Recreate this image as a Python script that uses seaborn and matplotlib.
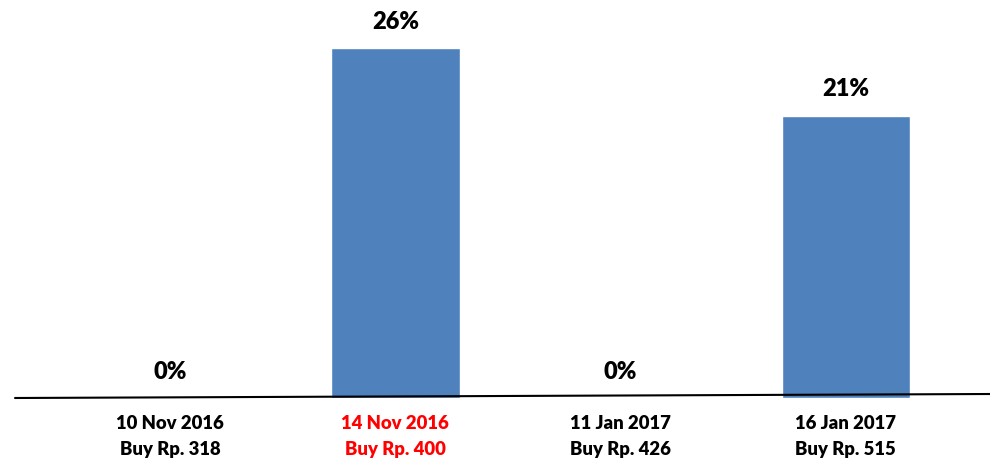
import matplotlib
matplotlib.use("Agg")
import matplotlib.pyplot as plt
from matplotlib.lines import Line2D
import pandas as pd
import seaborn as sns

# Chart data
dates = ["10 Nov 2016", "14 Nov 2016", "11 Jan 2017", "16 Jan 2017"]
prices = ["Buy Rp. 318", "Buy Rp. 400", "Buy Rp. 426", "Buy Rp. 515"]
returns = [0, 26, 0, 21]
label_colors = ["black", "#FF0000", "black", "black"]

df = pd.DataFrame({"cat": [f"{d}\n{p}" for d, p in zip(dates, prices)], "ret": returns})

sns.set_style("white")
plt.rcParams["font.family"] = ["Lato", "DejaVu Sans"]

fig = plt.figure(figsize=(9.9, 4.61), dpi=100)
ax = fig.add_axes([0, 63 / 461, 1, 398 / 461])

sns.barplot(data=df, x="cat", y="ret", color="#4F81BD", saturation=1, width=0.57, ax=ax)

ax.set_xlim(-0.755, 3.64)
ax.set_ylim(0, 29.6)

for i, v in enumerate(returns):
    ax.annotate(f"{v}%", (i, v), xytext=(0, 19), textcoords="offset points",
                ha="center", va="center", fontsize=17, fontweight="heavy", color="black")

ax.tick_params(axis="x", length=0, pad=12)
for lbl, c in zip(ax.get_xticklabels(), label_colors):
    lbl.set_color(c)
    lbl.set_fontweight("heavy")
    lbl.set_fontsize(13.3)
    lbl.set_linespacing(1.65)

ax.set_xlabel("")
ax.set_ylabel("")
ax.set_yticks([])
sns.despine(ax=ax, left=True, bottom=True)

# slanted baseline as in the original
fig.add_artist(Line2D([15 / 990, 1.0], [1 - 398 / 461, 1 - 394 / 461],
                      transform=fig.transFigure, color="black", lw=1.5, zorder=10))

fig.savefig("out.png", dpi=100)
